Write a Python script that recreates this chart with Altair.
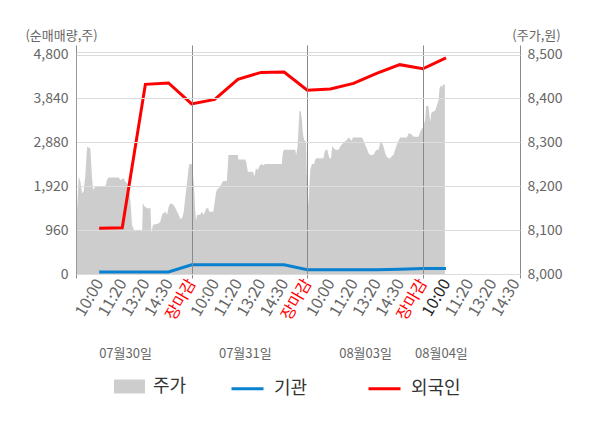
import json
import altair as alt
import pandas as pd

FONT = "Noto Sans CJK KR"

# ---- data ----
tick_labels = ["10:00", "11:20", "13:20", "14:30", "장마감"]
tick_pos = list(range(1, 20))
day_labels = ["07월30일", "07월31일", "08월03일", "08월04일"]
day_label_pos = [2.12, 7.3, 12.5, 15.78]
day_bounds = [0, 5, 10, 15, 19.2]

flow_t = list(range(1, 17))
foreign = [1000, 1010, 4150, 4180, 3720, 3820, 4260, 4410, 4420, 4020, 4050, 4170, 4390, 4580, 4490, 4730]
institution = [44, 44, 44, 44, 200, 200, 200, 200, 200, 94, 94, 94, 94, 105, 118, 118]

price_t = [
    0.00, 0.04, 0.12, 0.19, 0.26, 0.33, 0.40, 0.48, 0.62, 0.69, 0.74, 0.84, 1.27, 1.34, 1.41, 1.85,
    1.92, 2.06, 2.13, 2.21, 2.28, 2.35, 2.39, 2.42, 2.50, 2.57, 2.64, 2.86, 2.89, 2.97, 3.07, 3.22,
    3.26, 3.33, 3.50, 3.60, 3.65, 3.72, 3.79, 3.86, 3.94, 4.01, 4.08, 4.23, 4.30, 4.37, 4.44, 4.51,
    4.59, 4.66, 4.72, 4.79, 4.86, 4.90, 5.01, 5.03, 5.08, 5.12, 5.15, 5.19, 5.24, 5.37, 5.44, 5.51,
    5.58, 5.63, 5.72, 5.76, 5.94, 5.98, 6.04, 6.09, 6.16, 6.23, 6.30, 6.37, 6.52, 6.56, 6.59, 7.00,
    7.02, 7.31, 7.36, 7.43, 7.65, 7.72, 7.78, 7.86, 7.92, 8.01, 8.10, 8.18, 8.90, 8.94, 8.99, 9.48,
    9.52, 9.58, 9.62, 9.66, 9.72, 9.77, 9.81, 9.87, 9.95, 9.98, 10.01, 10.04, 10.08, 10.13, 10.17, 10.21,
    10.30, 10.34, 10.39, 10.70, 10.74, 10.79, 10.87, 10.93, 10.96, 11.03, 11.08, 11.13, 11.21, 11.35, 11.42, 11.50,
    11.57, 11.64, 11.71, 11.78, 11.86, 11.93, 11.97, 12.36, 12.43, 12.51, 12.58, 12.65, 12.72, 12.86, 12.94, 13.01,
    13.08, 13.15, 13.23, 13.30, 13.37, 13.44, 13.51, 13.59, 13.66, 13.73, 13.80, 13.88, 13.95, 14.02, 14.31, 14.38,
    14.45, 14.53, 14.60, 14.81, 14.89, 14.96, 15.00, 15.10, 15.14, 15.24, 15.29, 15.32, 15.36, 15.42, 15.53, 15.61,
    15.68, 15.72, 15.78, 15.83, 15.87, 15.95,
]
price = [
    8180, 8139, 8222, 8210, 8184, 8188, 8222, 8290, 8286, 8222, 8192, 8199, 8199, 8214, 8220, 8220,
    8214, 8218, 8210, 8207, 8192, 8169, 8139, 8112, 8101, 8097, 8101, 8097, 8161, 8154, 8150, 8150,
    8093, 8112, 8114, 8116, 8120, 8135, 8139, 8142, 8135, 8154, 8161, 8157, 8150, 8142, 8135, 8126,
    8127, 8142, 8172, 8203, 8237, 8251, 8251, 8241, 8214, 8184, 8150, 8122, 8135, 8135, 8142, 8135,
    8142, 8150, 8150, 8142, 8142, 8157, 8180, 8192, 8195, 8199, 8207, 8212, 8212, 8241, 8271, 8271,
    8261, 8261, 8256, 8233, 8233, 8222, 8241, 8237, 8245, 8251, 8248, 8251, 8251, 8275, 8283, 8283,
    8271, 8290, 8328, 8371, 8371, 8351, 8320, 8305, 8301, 8226, 8222, 8154, 8188, 8237, 8245, 8251,
    8251, 8260, 8264, 8264, 8275, 8283, 8283, 8269, 8264, 8264, 8292, 8288, 8283, 8283, 8290, 8296,
    8299, 8303, 8305, 8311, 8307, 8304, 8311, 8311, 8305, 8294, 8286, 8275, 8271, 8271, 8279, 8283,
    8283, 8298, 8299, 8290, 8276, 8267, 8264, 8264, 8269, 8271, 8283, 8296, 8304, 8311, 8311, 8320,
    8320, 8317, 8313, 8313, 8324, 8332, 8332, 8351, 8383, 8383, 8358, 8347, 8366, 8370, 8372, 8385,
    8396, 8423, 8430, 8425, 8432, 8432,
]
price_base = 8000

left_ticks = [0, 960, 1920, 2880, 3840, 4800]
right_ticks = [8000, 8100, 8200, 8300, 8400, 8500]

price_df = pd.DataFrame({"t": price_t, "price": price, "series": "주가"})
flow_df = pd.DataFrame({
    "t": flow_t * 2,
    "value": institution + foreign,
    "series": ["기관"] * len(flow_t) + ["외국인"] * len(flow_t),
})

X_DOMAIN = [0, 19.2]
xscale = alt.Scale(domain=X_DOMAIN, nice=False, zero=False)
GRAY_TXT = "#666666"

time_expr = json.dumps(tick_labels, ensure_ascii=False) + "[(datum.value - 1) % 5]"
date_expr = (json.dumps(day_labels, ensure_ascii=False) + "[indexof(" +
             json.dumps(day_label_pos) + ", datum.value)]")

area = alt.Chart(price_df).mark_area(interpolate="linear").encode(
    x=alt.X("t:Q", scale=xscale, axis=alt.Axis(
        orient="bottom", values=tick_pos, labelExpr=time_expr, title=None,
        ticks=False, grid=False, domain=True, domainColor="#999999",
        labelAngle=-60, labelAlign="right", labelBaseline="middle", labelPadding=6,
        labelFontSize=16, labelFont=FONT, labelOverlap=False, labelFlush=False,
        labelColor={"condition": [
            {"test": "datum.value % 5 == 0", "value": "#ff0000"},
            {"test": "datum.value == 16", "value": "#222222"}],
            "value": GRAY_TXT},
    )),
    y=alt.Y("price:Q", scale=alt.Scale(domain=[8000, 8506], nice=False, zero=False), axis=alt.Axis(
        orient="right", values=right_ticks, format=",.0f", grid=False, ticks=False,
        domainColor="#999999", labelFontSize=14, labelFont=FONT, labelColor=GRAY_TXT,
        labelPadding=7, title="(주가,원)", titleAngle=0, titleFont=FONT, titleFontSize=13,
        titleFontWeight="normal", titleColor=GRAY_TXT, titleAlign="center",
        titleBaseline="middle", titleX=16, titleY=-17,
    )),
    y2=alt.Y2(datum=price_base),
    fill=alt.Fill("series:N", scale=alt.Scale(domain=["주가"], range=["#cdcdcd"]), legend=alt.Legend(
        orient="none", legendX=38, legendY=319, title=None, direction="horizontal",
        symbolType="M-1,-0.45H1V0.45H-1Z", symbolSize=961, symbolStrokeWidth=0,
        labelFontSize=18, labelFont=FONT, labelColor="#333333", labelOffset=8,
    )),
)

lines = alt.Chart(flow_df).mark_line(strokeWidth=3).encode(
    x=alt.X("t:Q", scale=xscale, axis=alt.Axis(
        orient="top", values=day_bounds, labels=False, title=None, ticks=True, tickSize=7,
        tickColor="#8a8a8a", grid=True, gridColor="#8a8a8a", domain=False, zindex=1,
    )),
    y=alt.Y("value:Q", scale=alt.Scale(domain=[0, 4857], nice=False), axis=alt.Axis(
        orient="left", values=left_ticks, format=",.0f", grid=True, gridColor="#dcdcdc",
        ticks=False, domainColor="#999999", zindex=1, labelFontSize=14, labelFont=FONT,
        labelColor=GRAY_TXT, labelPadding=8,
        title="(순매매량,주)", titleAngle=0, titleFont=FONT, titleFontSize=13,
        titleFontWeight="normal", titleColor=GRAY_TXT, titleAlign="center",
        titleBaseline="middle", titleX=-15, titleY=-17,
    )),
    stroke=alt.Stroke("series:N", scale=alt.Scale(domain=["기관", "외국인"], range=["#0a80d0", "#ff0000"]),
                      legend=alt.Legend(
        orient="none", legendX=154, legendY=319, title=None, direction="horizontal",
        symbolType="stroke", symbolSize=1024, symbolStrokeWidth=3, columnPadding=54,
        labelFontSize=18, labelFont=FONT, labelColor="#333333", labelOffset=9,
    )),
    order=alt.Order("t:Q"),
)

bottom_ticks = alt.Chart(flow_df).mark_point(opacity=0).encode(
    x=alt.X("t:Q", scale=xscale, axis=alt.Axis(
        orient="bottom", values=day_bounds, labels=False, title=None, ticks=True, tickSize=4,
        tickColor="#8a8a8a", grid=False, domain=False,
    )),
    y=alt.Y("value:Q", scale=alt.Scale(domain=[0, 4857], nice=False), axis=None),
)

date_axis = alt.Chart(flow_df).mark_point(opacity=0).encode(
    x=alt.X("t:Q", scale=xscale, axis=alt.Axis(
        orient="bottom", values=day_label_pos, labelExpr=date_expr, title=None, ticks=False,
        grid=False, domain=False, labelAngle=0, labelAlign="center", labelBaseline="top",
        labelPadding=73, labelFontSize=13, labelFont=FONT, labelColor=GRAY_TXT,
        labelOverlap=False, labelFlush=False,
    )),
    y=alt.Y("value:Q", scale=alt.Scale(domain=[0, 4857], nice=False), axis=None),
)

chart = alt.layer(area, lines, bottom_ticks, date_axis).resolve_scale(
    y="independent"
).resolve_axis(
    x="independent", y="independent"
).properties(
    width=444, height=222,
    padding={"left": 68, "top": 44, "right": 72, "bottom": 146},
    autosize=alt.AutoSizeParams(type="none"),
).configure_view(
    fill="#f4f4f4", stroke="transparent"
).configure(
    font=FONT, background="white"
)

chart.save("out.html", embed_options={"renderer": "svg", "actions": False})
